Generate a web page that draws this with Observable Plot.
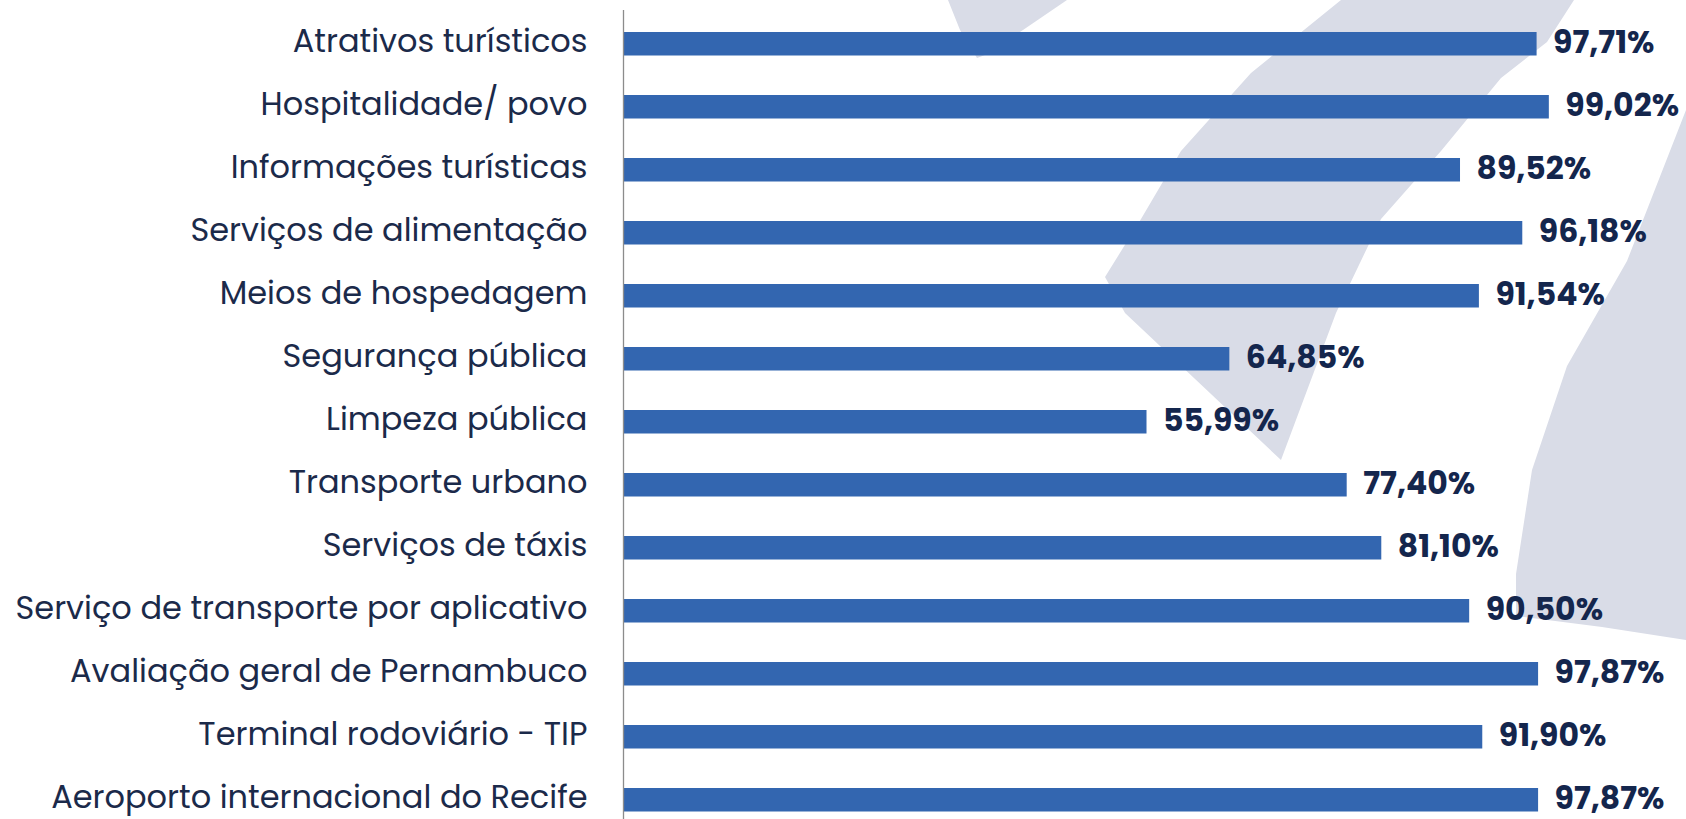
<!DOCTYPE html>
<html>
<head>
<meta charset="utf-8">
<script src="https://cdn.jsdelivr.net/npm/d3@7"></script>
<script src="https://cdn.jsdelivr.net/npm/@observablehq/plot@0.6"></script>
<style>
  html, body { margin: 0; padding: 0; background: #ffffff; }
  #wrap { position: relative; width: 1686px; height: 819px; overflow: hidden; }
  .wm { position: absolute; left: 0; top: 0; width: 1686px; height: 819px; background: #d9dce7; }
  #wmA { clip-path: polygon(948px 0, 1067px 0, 1023px 30px, 985px 55px, 977px 58px, 960px 30px); }
  #wmB { clip-path: polygon(1341px 0, 1574px 0, 1547px 42px, 1501px 78px, 1441px 151px, 1381px 219px, 1336px 313px, 1281px 460px, 1125px 313px, 1105px 277px, 1141px 219px, 1181px 151px, 1251px 73px); }
  #wmC { clip-path: polygon(1686px 110px, 1627px 261px, 1567px 366px, 1532px 470px, 1516px 574px, 1516px 616px, 1602px 627px, 1686px 640px); }
  #chart { position: absolute; left: 0; top: 0; }
</style>
</head>
<body>
<div id="wrap">
  <div class="wm" id="wmA"></div>
  <div class="wm" id="wmB"></div>
  <div class="wm" id="wmC"></div>
  <div id="chart"></div>
</div>
<script>
const categories = [
  "Atrativos turísticos",
  "Hospitalidade/ povo",
  "Informações turísticas",
  "Serviços de alimentação",
  "Meios de hospedagem",
  "Segurança pública",
  "Limpeza pública",
  "Transporte urbano",
  "Serviços de táxis",
  "Serviço de transporte por aplicativo",
  "Avaliação geral de Pernambuco",
  "Terminal rodoviário - TIP",
  "Aeroporto internacional do Recife"
];
const values = [97.71, 99.02, 89.52, 96.18, 91.54, 64.85, 55.99, 77.40, 81.10, 90.50, 97.87, 91.90, 97.87];

const data = categories.map((c, i) => ({category: c, value: values[i]}));
const fmt = v => v.toFixed(2).replace(".", ",") + "%";

const font = "Poppins, Inter, 'Open Sans', sans-serif";

const chart = Plot.plot({
  width: 1686,
  height: 819,
  marginLeft: 623,
  marginRight: 128,
  marginTop: 10,
  marginBottom: 0,
  style: {background: "transparent", fontFamily: font, color: "#1b2a4a", overflow: "visible"},
  x: {domain: [0, 100], axis: null},
  y: {domain: categories, range: [10.4, 832.6], padding: 0, label: null},
  marks: [
    Plot.barX(data, {x: "value", y: "category", fill: "#3366b0", insetTop: 20, insetBottom: 19.5}),
    Plot.ruleX([0], {stroke: "#8c8c8c", strokeWidth: 1.3}),
    Plot.axisY({tickSize: 0, tickPadding: 36, fontSize: 32, dy: -2, fill: "#1b2a4a", label: null}),
    Plot.text(data, {x: "value", y: "category", text: d => fmt(d.value), dx: 16, dy: -1, textAnchor: "start", fontWeight: 700, fontSize: 31.5, fill: "#14264d"})
  ]
});
document.getElementById("chart").appendChild(chart);
</script>
</body>
</html>
